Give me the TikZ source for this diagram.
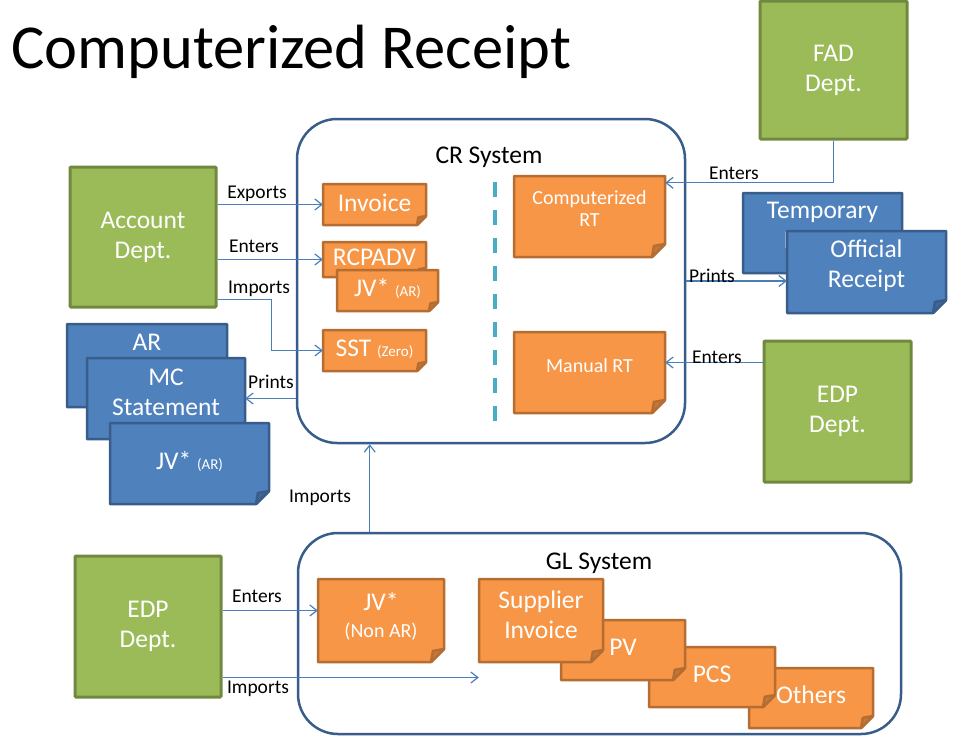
\documentclass[tikz,border=0pt]{standalone}
\usepackage{fontspec}
\setmainfont{Carlito}
\usetikzlibrary{arrows.meta,fit,calc}
\definecolor{orfill}{HTML}{F79646}
\definecolor{orline}{HTML}{B66D31}
\definecolor{orfold}{HTML}{C4783A}
\definecolor{blfill}{HTML}{4F81BD}
\definecolor{blline}{HTML}{385D8A}
\definecolor{blfold}{HTML}{3E6896}
\definecolor{grfill}{HTML}{9BBB59}
\definecolor{grline}{HTML}{71893F}
\definecolor{sysline}{HTML}{385D8A}
\definecolor{conncol}{HTML}{4A7EBB}
\definecolor{sepcol}{HTML}{4BACC6}
\newcommand\fsT{\fontsize{62.5}{70}\selectfont}
\newcommand\fsA{\fontsize{25.5}{30}\selectfont}
\newcommand\fsB{\fontsize{20}{22}\selectfont}
\newcommand\fsD{\fontsize{15}{18}\selectfont}
\newcommand\fsL{\fontsize{19.5}{22}\selectfont}
% name, x1, y1, x2, y2, fold, colour prefix, text y, text
\newcommand\docbox[9]{%
  \filldraw[fill=#7fill, draw=#7line, docline] (#2,#3) -- (#4,#3) -- (#4,#5-#6) -- (#4-#6,#5) -- (#2,#5) -- cycle;
  \filldraw[fill=#7fold, draw=#7line, docline] (#4,#5-#6) -- (#4-#6,#5) -- (#4-0.85*#6,#5-0.85*#6) -- cycle;
  \node[fit={(#2,#3) (#4,#5)}, inner sep=0pt] (#1) {};
  \node[doctext] (#1-t) at ({(#2+#4)/2},#8) {#9};
}
\begin{document}
\begin{tikzpicture}[x=1pt, y={(0pt,-1pt)},
  docline/.style={line width=2.5pt, line join=round},
  doctext/.style={text=white, align=center, inner sep=0pt, font=\fsA},
  dept/.style={fill=grfill, draw=grline, line width=3pt, text=white, align=center, font=\fsA, rounded corners=1pt},
  sysbox/.style={draw=sysline, line width=2.5pt, rounded corners=40pt, inner sep=0pt},
  systitle/.style={font=\fsA, inner sep=0pt},
  conn/.style={draw=conncol, line width=1.2pt, -{Straight Barb[length=7pt,width=11pt]}},
  lbl/.style={font=\fsL, inner sep=0pt},
  sepline/.style={draw=sepcol, line width=3.5pt, dash pattern=on 15pt off 13pt}]
\useasboundingbox (0,0) rectangle (968,747);
\fill[white] (0,0) rectangle (968,747);

% title
\node[font=\fsT, anchor=base west, inner sep=0pt] (title) at (11,68) {Computerized Receipt};

% systems
\node[sysbox, fit={(297,119) (685,443)}] (cr) {};
\node[systitle] (cr-t) at (489,157) {CR System};
\node[sysbox, fit={(298,533) (901,734)}] (gl) {};
\node[systitle] (gl-t) at (599,563) {GL System};

% departments
\node[dept, minimum width=146pt, minimum height=140pt] (acct) at (143,237) {Account\\Dept.};
\node[dept, minimum width=147pt, minimum height=138pt] (fad) at (833.5,70) {FAD\\Dept.};
\node[dept, minimum width=147pt, minimum height=141pt] (edp1) at (837.5,411.5) {EDP\\Dept.};
\node[dept, minimum width=146pt, minimum height=141pt] (edp2) at (148,626.5) {EDP\\Dept.};

% CR documents
\docbox{inv}{323}{184}{426}{225}{9}{or}{203}{Invoice}
\docbox{rcp}{323}{242}{426}{277}{9}{or}{257}{RCPADV}
\docbox{jva}{337}{270}{438}{311}{9}{or}{288}{JV* {\fsD (AR)}}
\docbox{sst}{323}{330}{426}{371}{9}{or}{349}{SST {\fsD (Zero)}}
\docbox{crt}{514}{176}{665}{257}{13}{or}{209}{\fsB Computerized\\[-8pt]\fsB RT}
\docbox{mrt}{514}{332}{665}{413}{13}{or}{366}{\fsB Manual RT}

% printed documents
\docbox{ar}{67}{324}{227}{407}{13}{bl}{342}{AR}
\docbox{mc}{87}{358}{245}{439}{13}{bl}{392}{MC\\Statement}
\docbox{jvb}{110}{423}{269}{504}{13}{bl}{461}{JV* {\fsD (AR)}}
\docbox{tmp}{743}{193}{902}{273}{13}{bl}{227}{Temporary\\Receipt}
\docbox{ofr}{787}{231}{946}{313}{13}{bl}{266}{Official\\Receipt}

% GL documents
\docbox{jvn}{318}{579}{444}{662}{13}{or}{616}{JV*\\[-3pt]\fsB (Non AR)}
\docbox{oth}{749}{668}{873}{728}{12}{or}{695}{Others}
\docbox{pcs}{649}{647}{775}{707}{12}{or}{674}{PCS}
\docbox{pv}{561}{620}{685}{680}{12}{or}{647}{PV}
\docbox{sup}{479}{579}{603}{662}{12}{or}{615}{Supplier\\Invoice}

% separator
\draw[sepline] (495,182) -- (495,425);

% connectors
\draw[conn] (acct.east |- inv.west) -- (inv.west);
\draw[conn] (acct.east |- rcp.west) -- (rcp.west);
\draw[conn] ([yshift=9pt]acct.south east) -- ++(54,0) |- (sst.west);
\draw[conn] (cr.west |- mc.east) -- (mc.east);
\draw[conn] (fad.south) |- ([yshift=-7pt]crt.north east);
\draw[conn] (cr.east) -- (cr.east -| ofr.west);
\path ([yshift=-23pt]edp1.north west) coordinate (e1);
\draw[conn] (e1) -- (e1 -| mrt.east);
\coordinate (imp) at ([xshift=74pt]cr.south west);
\draw[conn] (imp |- gl.north) -- (imp);
\path ([yshift=-56pt]edp2.north east) coordinate (e2);
\draw[conn] (e2) -- (e2 -| jvn.west);
\path ([yshift=21pt]edp2.south east) coordinate (e3);
\draw[conn] (e3) -- (e3 -| sup.west);

% labels
\node[lbl] (l1) at (257,194) {Exports};
\node[lbl] (l2) at (254,246) {Enters};
\node[lbl] (l3) at (259,289) {Imports};
\node[lbl] (l4) at (271,382) {Prints};
\node[lbl] (l5) at (734,173) {Enters};
\node[lbl] (l6) at (712,276) {Prints};
\node[lbl] (l7) at (717,357) {Enters};
\node[lbl] (l8) at (320,498) {Imports};
\node[lbl] (l9) at (257,596) {Enters};
\node[lbl] (l10) at (258,689) {Imports};
\end{tikzpicture}
\end{document}
